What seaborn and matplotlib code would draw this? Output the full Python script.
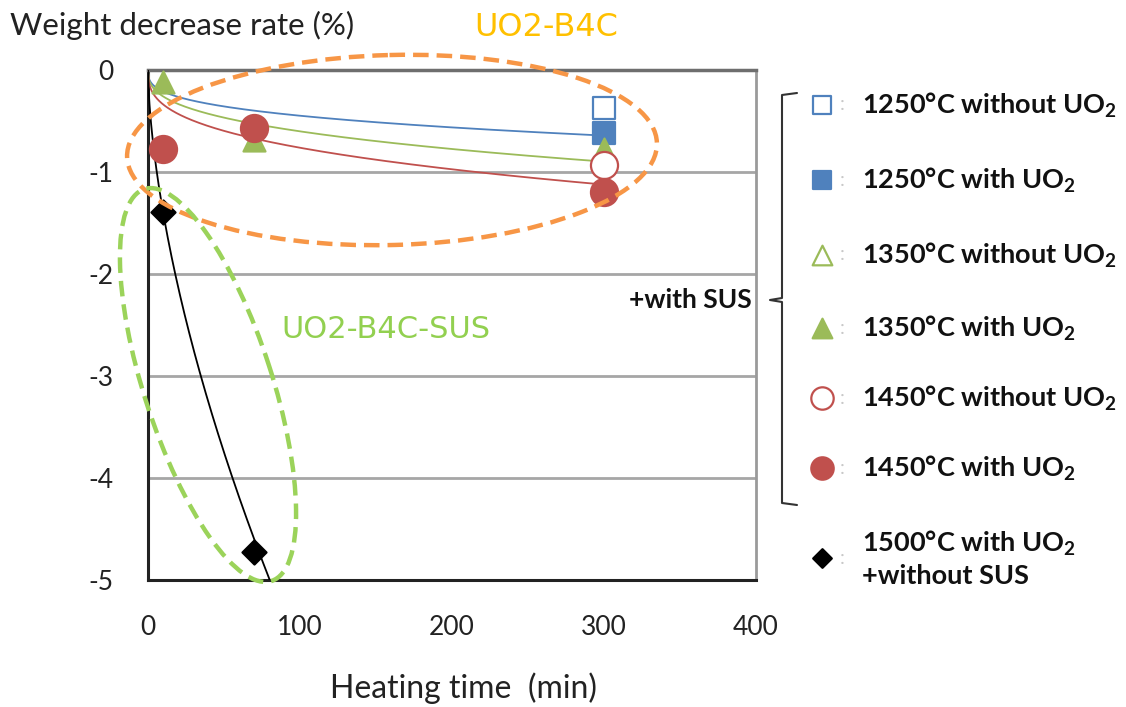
import numpy as np
import pandas as pd
import matplotlib
matplotlib.use("Agg")
import matplotlib.pyplot as plt
import seaborn as sns
from matplotlib.patches import Ellipse

sns.set_theme(style="white")
plt.rcParams['font.family'] = ['Lato', 'DejaVu Sans']
plt.rcParams['mathtext.fontset'] = 'custom'
plt.rcParams['mathtext.rm'] = 'Lato'
plt.rcParams['mathtext.bf'] = 'Lato:bold'

# ---------------- data ----------------
series_labels = [
    r"1250°C without UO$_\mathbf{2}$",
    r"1250°C with UO$_\mathbf{2}$",
    r"1350°C without UO$_\mathbf{2}$",
    r"1350°C with UO$_\mathbf{2}$",
    r"1450°C without UO$_\mathbf{2}$",
    r"1450°C with UO$_\mathbf{2}$",
    "1500°C with UO$_\\mathbf{2}$\n+without SUS",
]
series_time = [[300], [300], [], [10, 70, 300], [300], [10, 70, 300], [10, 70]]
series_rate = [[-0.37], [-0.62], [], [-0.12, -0.69, -0.77], [-0.93], [-0.77, -0.57, -1.20], [-1.39, -4.73]]
series_color = ["#4F81BD", "#4F81BD", "#9BBB59", "#9BBB59", "#C0504D", "#C0504D", "#000000"]
series_marker = ["s", "s", "^", "^", "o", "o", "D"]
series_filled = [False, True, False, True, False, True, True]
series_size = [250, 250, 250, 250, 380, 380, 150]

# trend lines (power fits): rate = -c * t^b
trend_color = ["#4F81BD", "#9BBB59", "#C0504D", "#000000"]
trend_c = [0.099, 0.112, 0.150, 0.342]
trend_b = [0.328, 0.365, 0.353, 0.612]

x_ticks = [0, 100, 200, 300, 400]
y_ticks = [0, -1, -2, -3, -4, -5]

# ---------------- figure ----------------
W, H = 1126, 707
fig = plt.figure(figsize=(W / 100, H / 100), dpi=100)
fig.patch.set_facecolor("white")
ax = fig.add_axes([148 / W, 1 - 580 / H, (756 - 148) / W, (580 - 70) / H])
ax.set_facecolor("white")

# trend lines
for c, b, col in zip(trend_c, trend_b, trend_color):
    t = np.linspace(0, 300, 600)
    df = pd.DataFrame({"t": t, "r": -c * t ** b})
    sns.lineplot(data=df, x="t", y="r", color=col, lw=1.3, ax=ax, zorder=3)

# points
for tx, ry, col, mk, fl, sz in zip(series_time, series_rate, series_color,
                                     series_marker, series_filled, series_size):
    if not tx:
        continue
    df = pd.DataFrame({"t": tx, "r": ry})
    sns.scatterplot(data=df, x="t", y="r", marker=mk, s=sz,
                    facecolor=col if fl else "white", edgecolor=col,
                    linewidth=1.6, ax=ax, zorder=4, clip_on=False)

ax.set_xlim(0, 400)
ax.set_ylim(-5, 0)
ax.set_xticks(x_ticks)
ax.set_yticks(y_ticks)
ax.set_xticklabels([str(v) for v in x_ticks], fontsize=19, color="#222222")
ax.set_yticklabels([str(v) for v in y_ticks], fontsize=19, color="#222222")
ax.tick_params(axis="both", direction="out", length=7, width=1.5, color="#333333", pad=18)
ax.set_xlabel("")
ax.set_ylabel("")
ax.yaxis.grid(True, color="#A6A6A6", lw=2)
ax.set_axisbelow(True)
for side, col, lw in [("top", "#6E6E6E", 2.5), ("right", "#9A9A9A", 2.0),
                      ("left", "#222222", 2.2), ("bottom", "#222222", 2.2)]:
    ax.spines[side].set_visible(True)
    ax.spines[side].set_color(col)
    ax.spines[side].set_linewidth(lw)

# ---------------- overlay in pixel coordinates ----------------
ov = fig.add_axes([0, 0, 1, 1], zorder=5)
ov.set_xlim(0, W)
ov.set_ylim(H, 0)
ov.axis("off")
ov.patch.set_alpha(0)

ov.add_patch(Ellipse((392, 150), 530, 190, angle=-1.5, fill=False,
                     edgecolor="#F79646", lw=3.2, linestyle=(0, (3.5, 1.8))))
ov.add_patch(Ellipse((208, 385), 412, 128, angle=72, fill=False,
                     edgecolor="#9BD35A", lw=3.2, linestyle=(0, (3.5, 1.8))))

fig.text(10 / W, 1 - 25 / H, "Weight decrease rate (%)", fontsize=22.5,
         color="#222222", va="center", ha="left")
fig.text(464 / W, 1 - 688 / H, "Heating time  (min)", fontsize=23,
         color="#222222", va="center", ha="center")
fig.text(546 / W, 1 - 28 / H, "UO2-B4C", fontsize=23, color="#FFC000",
         va="center", ha="center", family="DejaVu Sans")
fig.text(386 / W, 1 - 330 / H, "UO2-B4C-SUS", fontsize=22, color="#92D050",
         va="center", ha="center", family="DejaVu Sans")

# legend
rows_y = [105, 180, 255, 328, 398, 468, 558]
for i, (lab, col, mk, fl) in enumerate(zip(series_labels, series_color, series_marker, series_filled)):
    y = rows_y[i]
    ms = {"s": 170, "^": 200, "o": 260, "D": 90}[mk]
    ov.scatter([822], [y], marker=mk, s=ms, facecolor=col if fl else "white",
               edgecolor=col, linewidth=1.6, clip_on=False)
    ov.text(842, y, ":", fontsize=14, color="#C8C8C8", va="center", ha="center")
    ov.text(862, y, lab, fontsize=19.5, fontweight="bold", color="#111111",
            va="center", ha="left", linespacing=1.3)

# brace
bx = 782
ov.plot([797, bx, bx, 770, bx, bx, 797], [93, 95, 298, 300, 302, 503, 505],
        color="#333333", lw=1.5, solid_joinstyle="round")
ov.text(752, 300, "+with SUS", fontsize=19, fontweight="bold", color="#111111",
        va="center", ha="right")

fig.savefig("out.png", dpi=100)
